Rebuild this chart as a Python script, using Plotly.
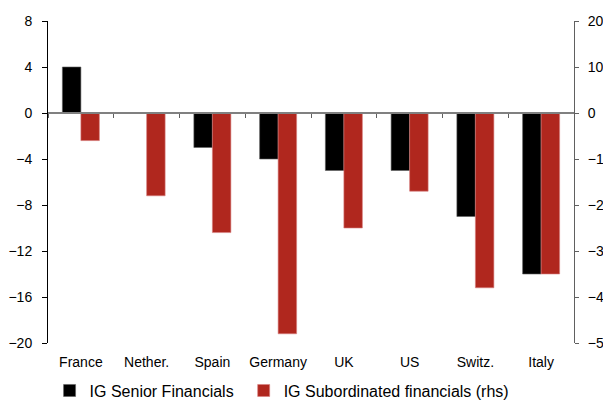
import plotly.graph_objects as go

countries = ["France", "Nether.", "Spain", "Germany", "UK", "US", "Switz.", "Italy"]
senior = [4, 0, -3, -4, -5, -5, -9, -14]
subordinated = [-6, -18, -26, -48, -25, -17, -38, -35]
left_ticks = [8, 4, 0, -4, -8, -12, -16, -20]
right_ticks = [20, 10, 0, -10, -20, -30, -40, -50]

FONT = "Liberation Sans, Arial, sans-serif"

fig = go.Figure()
fig.add_trace(go.Bar(
    x=countries, y=senior, name="IG Senior Financials",
    marker=dict(color="#000000", line=dict(color="#606060", width=0.6)),
    offsetgroup="a", xaxis="x", yaxis="y", legend="legend",
))
fig.add_trace(go.Bar(
    x=countries, y=subordinated, name="IG Subordinated financials (rhs)",
    marker=dict(color="#B0271E", line=dict(color="#D88080", width=0.6)),
    offsetgroup="b", xaxis="x", yaxis="y2", legend="legend2",
))
# invisible helper trace for the zero-line axis with boundary ticks
fig.add_trace(go.Scatter(
    x=countries, y=[0] * len(countries), mode="none",
    showlegend=False, hoverinfo="skip", xaxis="x2", yaxis="y",
))

zero_pos = (0 - left_ticks[-1]) / (left_ticks[0] - left_ticks[-1])

legend_common = dict(
    orientation="h", xanchor="left",
    yref="container", y=0.026, yanchor="middle",
    font=dict(family=FONT, size=16, color="#000000"),
    bgcolor="rgba(0,0,0,0)", itemclick=False,
)

fig.update_layout(
    width=603, height=401,
    margin=dict(l=48, r=29, t=21, b=58, autoexpand=False),
    paper_bgcolor="white", plot_bgcolor="white",
    barmode="group", bargap=0.437, bargroupgap=0,
    font=dict(family=FONT, size=14, color="#000000"),
    showlegend=True,
    legend=dict(x=0.003, **legend_common),
    legend2=dict(x=0.372, **legend_common),
    xaxis=dict(
        type="category", categoryarray=countries, categoryorder="array",
        showline=False, ticks="", showgrid=False, zeroline=False,
        tickfont=dict(family=FONT, size=14), ticklabelstandoff=9,
        automargin=False,
    ),
    xaxis2=dict(
        type="category", categoryarray=countries, categoryorder="array",
        overlaying="x", anchor="free", position=zero_pos,
        matches="x",
        showline=True, linecolor="#808080", linewidth=1.5,
        ticks="outside", tickson="boundaries", ticklen=4, tickcolor="#606060",
        showticklabels=False, showgrid=False, zeroline=False,
    ),
    yaxis=dict(
        range=[left_ticks[-1], left_ticks[0]], tickvals=left_ticks,
        showline=True, linecolor="#000000", linewidth=1,
        ticks="outside", ticklen=5, tickcolor="#000000",
        showgrid=False, zeroline=False, ticklabelstandoff=7,
        tickfont=dict(family=FONT, size=14), automargin=False,
    ),
    yaxis2=dict(
        range=[right_ticks[-1], right_ticks[0]], tickvals=right_ticks,
        overlaying="y", side="right", anchor="x",
        showline=True, linecolor="#606060", linewidth=1,
        ticks="outside", ticklen=4, tickcolor="#606060",
        showgrid=False, zeroline=False, ticklabelstandoff=6,
        tickfont=dict(family=FONT, size=14), automargin=False,
    ),
)

fig.write_html("out.html")
